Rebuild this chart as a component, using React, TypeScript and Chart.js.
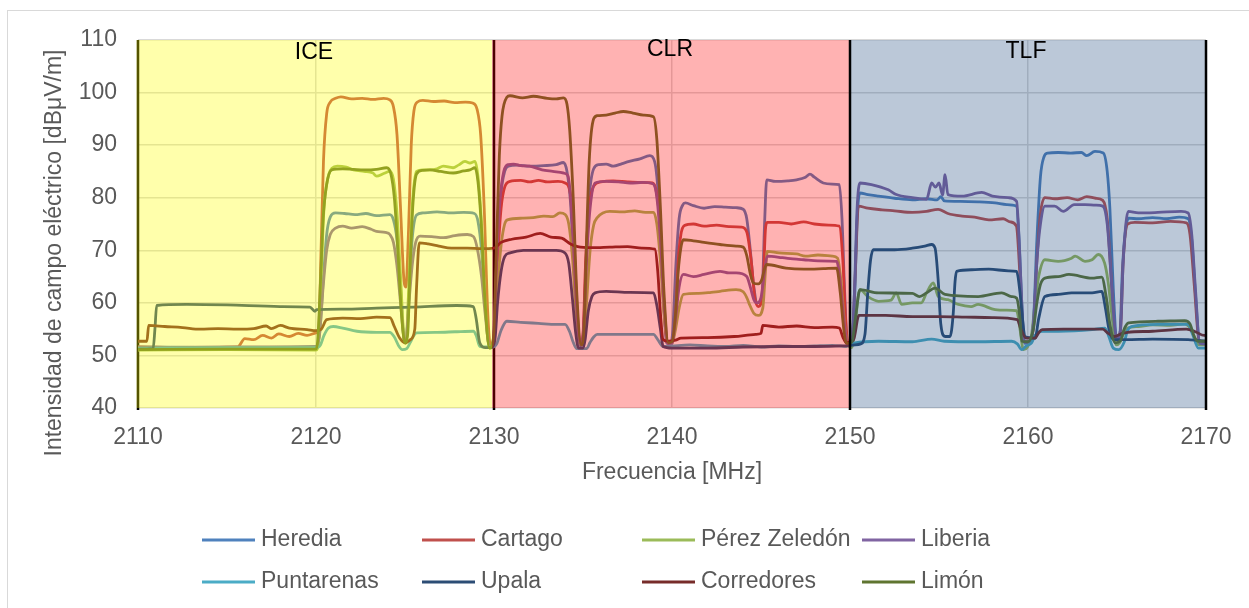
import React, { useEffect, useRef } from 'react';
import { Chart, registerables } from 'chart.js';

Chart.register(...registerables);

const FONT = "'Liberation Sans', Arial, sans-serif";
const TEXT_COLOR = '#595959';

const seriesNames = ['Heredia', 'Cartago', 'Pérez Zeledón', 'Liberia', 'Puntarenas', 'Upala', 'Corredores', 'Limón'];
const seriesColors = ['#4F81BD', '#C0504D', '#9BBB59', '#8064A2', '#4BACC6', '#2C4D75', '#772C2A', '#5F7530'];

const bandLabels = ['ICE', 'CLR', 'TLF'];
const bandStart = [2110, 2130, 2150];
const bandEnd = [2130, 2150, 2170];
const bandLabelY = [107.6, 108.2, 107.7];
const bandColors = ['rgba(255,255,0,0.33)', 'rgba(255,0,0,0.3)', 'rgba(31,73,125,0.3)'];

const xTitle = 'Frecuencia [MHz]';
const yTitle = 'Intensidad de campo eléctrico [dBμV/m]';

// [frecuencia MHz, dBμV/m]
const heredia: [number, number][] = [
  [2110, 51.6], [2115, 51.5], [2120, 51.7], [2120.2, 54], [2120.4, 64], [2120.6, 73], [2120.8, 76.3], [2121.1, 77.1],
  [2121.6, 77.0], [2122.2, 76.8], [2122.8, 77.0], [2123.4, 76.6], [2124.15, 76.8], [2124.35, 75.8], [2124.55, 72],
  [2124.75, 63], [2124.95, 53], [2125.05, 52.5], [2125.2, 60], [2125.4, 72], [2125.65, 76.7], [2126, 77.1], [2126.8, 77.3],
  [2127.6, 77.1], [2128.3, 77.2], [2128.9, 77.0], [2129.1, 75.5], [2129.3, 70], [2129.5, 60], [2129.7, 52.5], [2129.85, 51.8],
  [2130.0, 54], [2130.2, 70], [2130.4, 81], [2130.6, 85], [2130.8, 86.0], [2131.3, 86.2], [2132, 86.0], [2132.8, 86.1],
  [2133.5, 86.3], [2133.9, 86.7], [2134.1, 85], [2134.3, 79], [2134.5, 66], [2134.7, 55], [2134.85, 51.8], [2135.0, 53],
  [2135.15, 66], [2135.35, 80], [2135.6, 85.5], [2135.9, 86.3], [2136.3, 86.4], [2136.7, 86.0], [2137.2, 86.5], [2137.6, 86.9],
  [2138.2, 87.4], [2138.75, 88.0], [2138.9, 87.8], [2139.1, 85.5], [2139.3, 77], [2139.5, 62], [2139.7, 52.4], [2139.9, 52],
  [2140.05, 55], [2140.2, 66], [2140.4, 76], [2140.6, 78.6], [2140.75, 79.0], [2141.2, 78.5], [2141.8, 78.0], [2142.4, 78.3],
  [2143.0, 78.2], [2143.6, 78.1], [2144.0, 77.8], [2144.2, 76], [2144.4, 70], [2144.6, 63], [2144.8, 60], [2145.05, 61],
  [2145.2, 75], [2145.32, 83.4], [2145.8, 83.1], [2146.5, 83.2], [2147.0, 83.4], [2147.5, 83.9], [2147.75, 84.5], [2148.0, 83.9],
  [2148.5, 82.8], [2149.0, 82.6], [2149.4, 82.5], [2149.55, 76], [2149.7, 62], [2149.85, 52.5], [2150.05, 52.3],
  [2150.25, 60], [2150.4, 76], [2150.55, 80.9], [2151, 80.6], [2151.6, 80.3], [2152.5, 79.9], [2153.5, 79.6], [2154.3, 79.8],
  [2154.9, 79.6], [2155.1, 80.2], [2155.3, 79.4], [2156.2, 79.3], [2157.2, 79.2], [2158.15, 79.0], [2158.8, 78.7],
  [2159.35, 78.4], [2159.5, 72], [2159.65, 60], [2159.8, 52.3], [2160.1, 52.5], [2160.3, 56], [2160.5, 72], [2160.7, 84],
  [2160.9, 87.8], [2161.1, 88.5], [2161.7, 88.6], [2162.4, 88.5], [2163.0, 88.6], [2163.3, 88.0], [2163.76, 88.8],
  [2164.23, 88.5], [2164.45, 85], [2164.6, 78], [2164.8, 62], [2164.98, 53], [2165.15, 53.5], [2165.3, 66], [2165.45, 73],
  [2165.65, 76.1], [2166.2, 76.0], [2167, 76.2], [2167.8, 76.0], [2168.5, 76.3], [2169.0, 76.0], [2169.2, 72], [2169.4, 62],
  [2169.65, 52.2], [2170, 52.0],
];

const cartago: [number, number][] = [
  [2110, 51.6], [2113, 51.5], [2115.6, 51.6], [2116.0, 53.2], [2116.5, 53.0], [2117.0, 53.8], [2117.5, 53.3], [2117.9, 54.1],
  [2118.5, 53.6], [2119.0, 54.2], [2119.5, 53.8], [2120.0, 54.3], [2120.15, 55], [2120.3, 72], [2120.42, 87], [2120.6, 96],
  [2120.8, 98.2], [2121.1, 98.9], [2121.4, 99.2], [2122, 98.8], [2122.6, 98.9], [2123.2, 98.7], [2123.8, 98.9],
  [2124.15, 98.6], [2124.35, 97.3], [2124.55, 92], [2124.75, 78], [2124.95, 64], [2125.05, 63], [2125.2, 74], [2125.35, 90],
  [2125.5, 96.5], [2125.7, 98.2], [2126, 98.5], [2126.6, 98.3], [2127.2, 98.4], [2127.8, 98.1], [2128.4, 98.2], [2128.8, 98.0],
  [2129.05, 96.8], [2129.25, 92], [2129.45, 78], [2129.65, 58], [2129.8, 52],
  [2130.0, 54], [2130.2, 68], [2130.4, 78], [2130.6, 82], [2130.9, 83.1], [2131.5, 83.3], [2132, 83], [2132.5, 83.3],
  [2133, 83.0], [2133.6, 83.1], [2134.0, 82.8], [2134.25, 81.5], [2134.45, 75], [2134.65, 60], [2134.85, 52], [2135.0, 54],
  [2135.15, 68], [2135.35, 78], [2135.6, 82.2], [2136, 83], [2136.7, 83.2], [2137.5, 83], [2138.2, 82.9], [2138.9, 82.8],
  [2139.1, 81.5], [2139.3, 76], [2139.5, 62], [2139.75, 52.4], [2140.0, 52.5], [2140.2, 57], [2140.35, 68], [2140.5, 73],
  [2140.7, 74.7], [2141.2, 75.0], [2141.8, 74.6], [2142.5, 74.8], [2143.2, 74.5], [2143.9, 74.4], [2144.2, 73.5],
  [2144.45, 68], [2144.65, 61], [2144.85, 59.3], [2145.1, 62], [2145.25, 74], [2145.35, 75.3], [2146, 75.3], [2146.7, 75.0],
  [2147.4, 75.4], [2148, 75.0], [2148.8, 74.8], [2149.4, 74.6], [2149.6, 68], [2149.75, 57], [2149.9, 52.2], [2150.1, 52.5],
  [2150.3, 66], [2150.47, 78.4], [2151, 78.0], [2151.8, 77.7], [2152.5, 77.5], [2153.5, 77.2], [2154.3, 77.4],
  [2154.95, 77.8], [2155.5, 77.0], [2156.3, 76.5], [2157.0, 76.3], [2157.8, 75.8], [2158.6, 76.0], [2159.0, 75.4],
  [2159.35, 74.6], [2159.55, 65], [2159.75, 52.7], [2160.0, 52.6], [2160.3, 55], [2160.5, 68], [2160.7, 77], [2160.95, 80.0],
  [2161.5, 79.8], [2162.2, 80.0], [2162.8, 79.6], [2163.3, 80.2], [2163.8, 79.9], [2164.2, 79.5], [2164.45, 76],
  [2164.65, 66], [2164.85, 55], [2165.0, 53], [2165.2, 55], [2165.35, 68], [2165.6, 75.0], [2166, 75.3], [2167, 75.2],
  [2168, 75.5], [2168.9, 75.2], [2169.1, 73], [2169.35, 63], [2169.6, 53], [2170, 52.3],
];

const perezZeledon: [number, number][] = [
  [2110, 51.0], [2115, 51.1], [2120, 51.0], [2120.15, 53], [2120.3, 66], [2120.45, 78], [2120.65, 83.5], [2120.9, 85.6],
  [2121.2, 86.0], [2121.7, 85.8], [2122.1, 85.3], [2122.7, 85.0], [2123.2, 84.7], [2123.4, 84.1], [2123.8, 84.6],
  [2124.15, 85.0], [2124.35, 83.5], [2124.55, 77], [2124.75, 65], [2124.95, 53], [2125.05, 52.3], [2125.2, 62], [2125.4, 78],
  [2125.65, 85.0], [2126.0, 85.3], [2126.4, 85.3], [2126.8, 85.5], [2127.15, 86.0], [2127.7, 85.7], [2128.0, 86.2],
  [2128.37, 86.9], [2128.65, 86.6], [2128.93, 86.9], [2129.1, 84], [2129.3, 75], [2129.5, 60], [2129.75, 51.4], [2129.9, 51.5],
  [2130.05, 54], [2130.2, 63], [2130.4, 71], [2130.6, 75], [2130.75, 75.8], [2131.6, 76.1], [2132.2, 76.2], [2132.8, 76.5],
  [2133.3, 76.4], [2133.7, 77.1], [2134.0, 76.8], [2134.2, 75], [2134.4, 69], [2134.6, 59], [2134.8, 52.2], [2135.05, 52.5],
  [2135.2, 60], [2135.4, 70], [2135.6, 74.8], [2135.8, 76.2], [2136.5, 77.4], [2137.2, 77.3], [2137.9, 77.5], [2138.5, 77.2],
  [2138.96, 77.2], [2139.15, 75], [2139.35, 68], [2139.55, 58], [2139.8, 52.2], [2140.0, 52.3], [2140.2, 55], [2140.4, 59],
  [2140.64, 61.6], [2141.5, 61.8], [2142.2, 62.0], [2142.7, 62.2], [2143.6, 62.5], [2144.0, 62.1], [2144.2, 61],
  [2144.38, 59.5], [2144.6, 58.0], [2144.85, 57.6], [2145.1, 59], [2145.25, 66], [2145.35, 69.8], [2146, 69.5],
  [2147, 69.3], [2147.5, 68.9], [2148.2, 69.1], [2149.0, 68.9], [2149.3, 68.5], [2149.5, 64], [2149.7, 56], [2149.9, 51.8],
  [2150.1, 51.5], [2150.3, 56], [2150.45, 61], [2150.56, 62.5], [2151.0, 61.2], [2151.6, 60.3], [2152.3, 60.5],
  [2152.6, 61.9], [2152.9, 59.7], [2153.5, 60.0], [2154.0, 60.0], [2154.3, 61.9], [2154.68, 63.8], [2154.96, 61.2],
  [2155.5, 60.6], [2156.09, 59.7], [2156.8, 59.3], [2157.2, 59.7], [2158.15, 58.7], [2158.8, 58.6], [2159.36, 58.5],
  [2159.55, 55], [2159.74, 51.1], [2159.95, 51.5], [2160.2, 54], [2160.4, 60], [2160.6, 65], [2160.95, 68.2], [2161.7, 67.9],
  [2162.45, 68.5], [2162.65, 68.9], [2163.2, 67.9], [2163.6, 68.2], [2163.95, 69.2], [2164.3, 67.6], [2164.5, 64],
  [2164.7, 58], [2164.95, 52], [2165.15, 52.4], [2165.35, 54], [2165.6, 55.2], [2166.2, 55.5], [2167.0, 55.8],
  [2168.0, 55.7], [2168.8, 56.0], [2169.1, 55.2], [2169.35, 53.5], [2169.6, 52.0], [2170, 52.0],
];

const liberia: [number, number][] = [
  [2110, 51.5], [2115, 51.6], [2120, 51.6], [2120.2, 54], [2120.4, 63], [2120.6, 70], [2120.8, 73], [2121.1, 74.2],
  [2121.5, 74.6], [2122.0, 74.2], [2122.6, 74.5], [2123.1, 74.0], [2123.4, 73.6], [2123.9, 73.4], [2124.15, 73.0],
  [2124.35, 71.5], [2124.55, 67], [2124.75, 60], [2124.95, 53], [2125.05, 52.4], [2125.2, 59], [2125.4, 67], [2125.6, 71.5],
  [2125.85, 72.7], [2126.5, 72.6], [2127.15, 72.4], [2127.8, 72.8], [2128.5, 73.0], [2128.85, 72.6], [2129.05, 70.5],
  [2129.3, 65], [2129.5, 58], [2129.75, 51.7], [2129.9, 51.8],
  [2130.0, 54], [2130.15, 68], [2130.35, 80], [2130.55, 85], [2130.81, 86.3], [2131.1, 86.4], [2131.5, 86.1], [2132.0, 86.0],
  [2132.7, 85.3], [2133.3, 85.0], [2133.9, 84.7], [2134.15, 84.2], [2134.35, 78], [2134.55, 65], [2134.75, 54], [2134.9, 52],
  [2135.05, 56], [2135.2, 68], [2135.4, 78], [2135.68, 82.8], [2136.3, 83.1], [2137.0, 83.0], [2137.65, 82.8], [2138.4, 82.9],
  [2138.95, 82.6], [2139.15, 80], [2139.35, 72], [2139.55, 60], [2139.8, 52], [2140.0, 52.3], [2140.2, 57], [2140.4, 63],
  [2140.64, 65.4], [2141.2, 65.0], [2141.8, 65.4], [2142.7, 66.0], [2143.2, 65.7], [2143.6, 65.7], [2144.2, 65.0],
  [2144.4, 63], [2144.6, 60.6], [2144.76, 60.0], [2145.0, 61], [2145.2, 66], [2145.35, 68.9], [2146.2, 68.6], [2147.0, 68.3],
  [2147.4, 68.2], [2148.2, 68.0], [2149.25, 67.9], [2149.45, 64], [2149.65, 57], [2149.9, 52], [2150.1, 52.2],
  [2150.25, 62], [2150.4, 78], [2150.56, 82.8], [2151.2, 82.5], [2152.15, 81.5], [2152.6, 80.6], [2153.5, 80.0],
  [2154.3, 79.7], [2154.59, 82.8], [2154.8, 82.0], [2155.0, 82.8], [2155.2, 80.5], [2155.34, 84.4], [2155.5, 80.6],
  [2156.3, 80.3], [2157.4, 81.0], [2158.0, 80.3], [2158.9, 80.0], [2159.36, 79.3], [2159.5, 72], [2159.65, 60],
  [2159.8, 52.5], [2160.1, 52.6], [2160.3, 56], [2160.5, 68], [2160.7, 75], [2160.95, 78.4], [2161.5, 78.4], [2161.98, 77.4],
  [2162.6, 78.7], [2163.2, 78.7], [2163.8, 78.6], [2164.2, 78.4], [2164.45, 75], [2164.65, 66], [2164.85, 56], [2165.0, 53],
  [2165.2, 55], [2165.35, 68], [2165.63, 77.4], [2166.2, 77.1], [2167.3, 77.2], [2168.6, 77.4], [2169.0, 77.1], [2169.2, 73],
  [2169.4, 63], [2169.65, 52.3], [2170, 52.2],
];

const puntarenas: [number, number][] = [
  [2110, 51.4], [2115, 51.5], [2120, 51.5], [2120.25, 52], [2120.45, 53.8], [2120.7, 55.2], [2120.97, 55.5], [2121.5, 55.2],
  [2122.3, 54.6], [2123.4, 54.4], [2124.15, 54.4], [2124.4, 53.5], [2124.65, 51.8], [2124.85, 51.1], [2125.1, 51.3],
  [2125.3, 52.5], [2125.5, 53.8], [2125.65, 54.3], [2126.8, 54.4], [2127.8, 54.5], [2128.84, 54.6], [2129.0, 53.8],
  [2129.2, 51.7], [2129.5, 51.6], [2129.9, 51.6], [2130.15, 52.2], [2130.4, 54.8], [2130.72, 56.5], [2131.5, 56.3],
  [2132.5, 56.1], [2133.5, 55.9], [2133.99, 55.9], [2134.25, 54.5], [2134.45, 52.5], [2134.65, 51.3], [2135.2, 51.3],
  [2135.4, 52.5], [2135.6, 53.5], [2135.8, 54.0], [2136.8, 54.0], [2138.0, 54.0], [2138.96, 54.0], [2139.2, 53.0],
  [2139.5, 51.7], [2140, 51.8], [2141, 52.0], [2142, 51.8], [2143, 51.7], [2144, 51.9], [2145, 51.6], [2146, 51.8],
  [2147, 51.7], [2148, 51.8], [2149, 51.9], [2149.8, 51.7], [2150.28, 52.4], [2151.6, 52.7], [2153.5, 52.6], [2154.59, 53.1],
  [2155.3, 52.7], [2157.2, 52.6], [2159.08, 52.7], [2159.4, 52.2], [2159.65, 51.1], [2159.9, 51.8], [2160.2, 52.4],
  [2160.4, 53.8], [2160.77, 54.6], [2161.7, 54.6], [2163.6, 54.9], [2164.32, 55.2], [2164.55, 53.5], [2164.79, 51.4],
  [2165.1, 51.1], [2165.4, 52.5], [2165.6, 54.8], [2165.8, 55.5], [2167.3, 55.9], [2169.0, 55.9], [2169.25, 54],
  [2169.57, 51.4], [2170, 51.4],
];

const upala: [number, number][] = [
  [2110, 51.2], [2110.85, 51.3], [2110.95, 55], [2111.05, 59.5], [2112.73, 59.7], [2115.0, 59.6], [2117.98, 59.3],
  [2119.66, 59.2], [2119.94, 58.4], [2120.03, 58.7], [2121.5, 58.8], [2123.4, 59.0], [2125.5, 59.2], [2127.9, 59.5],
  [2128.84, 59.3], [2129.0, 57], [2129.2, 52.4], [2129.5, 51.5], [2129.8, 51.5], [2130.05, 53], [2130.2, 60], [2130.4, 66],
  [2130.6, 68.8], [2130.9, 69.5], [2131.65, 70.0], [2133.5, 70.0], [2133.99, 69.5], [2134.2, 67.5], [2134.4, 61],
  [2134.6, 54], [2134.75, 51.4], [2135.0, 51.4], [2135.12, 53], [2135.3, 58.5], [2135.5, 61.2], [2135.68, 61.9],
  [2136.3, 62.2], [2137.6, 62.0], [2138.96, 61.9], [2139.15, 59.5], [2139.35, 55], [2139.5, 51.7], [2140, 51.4],
  [2142, 51.4], [2144, 51.6], [2146, 51.7], [2148, 51.7], [2149.5, 51.8], [2150.3, 52.0], [2150.6, 52.2], [2150.84, 54],
  [2151.0, 62], [2151.15, 68], [2151.31, 70.1], [2152.5, 70.1], [2153.5, 70.4], [2154.2, 70.8], [2154.59, 71.1],
  [2154.78, 70.4], [2154.96, 64], [2155.1, 56], [2155.34, 53.6], [2155.62, 53.6], [2155.8, 58], [2155.9, 64],
  [2155.99, 66.0], [2156.84, 66.3], [2157.8, 66.4], [2158.9, 66.1], [2159.36, 66.0], [2159.55, 62], [2159.75, 55],
  [2159.83, 53.6], [2160.4, 53.3], [2160.6, 57], [2160.95, 61.2], [2161.7, 61.6], [2162.45, 61.9], [2163.6, 61.9],
  [2164.14, 62.2], [2164.35, 59], [2164.55, 55], [2164.8, 53.0], [2165.5, 53.0], [2167, 53.1], [2169.0, 53.0], [2170, 52.7],
];

const corredores: [number, number][] = [
  [2110, 52.7], [2110.5, 52.7], [2110.6, 55.7], [2111.5, 55.5], [2112.5, 55.3], [2113.5, 55.0], [2114.5, 55.1],
  [2115.6, 55.0], [2116.5, 55.1], [2117.2, 55.6], [2117.5, 55.1], [2118.0, 55.7], [2118.5, 55.2], [2119.5, 54.9],
  [2120.0, 54.7], [2120.3, 55.0], [2120.6, 56.8], [2121.5, 57.1], [2122.5, 57.0], [2123.4, 57.3], [2124.16, 57.2],
  [2124.4, 55.5], [2124.7, 53.3], [2125.0, 52.4], [2125.3, 53.0], [2125.55, 55], [2125.65, 63], [2125.8, 71.4],
  [2126.3, 71.2], [2126.9, 70.8], [2127.6, 70.4], [2128.5, 70.4], [2129.3, 70.3], [2130.0, 70.4], [2130.4, 71.5],
  [2131.0, 72.1], [2131.8, 72.5], [2132.6, 73.2], [2133.2, 72.5], [2133.8, 72.3], [2134.3, 71.2], [2134.7, 70.7],
  [2135.5, 70.5], [2136.5, 70.6], [2137.5, 70.7], [2138.3, 70.4], [2139.04, 70.2], [2139.2, 66], [2139.35, 58],
  [2139.5, 53], [2139.8, 52.7], [2140.2, 52.9], [2140.5, 53.3], [2142.0, 53.4], [2143.5, 53.6], [2144.7, 54.0],
  [2145.0, 54.2], [2145.1, 55.7], [2146.0, 55.4], [2147.0, 55.6], [2148.0, 55.3], [2149.0, 55.4], [2149.4, 55.2],
  [2149.6, 53.5], [2149.8, 52.4], [2150.2, 53], [2150.5, 57.6], [2152.0, 57.6], [2153.5, 57.4], [2155.0, 57.4],
  [2156.5, 57.3], [2158.0, 57.2], [2159.4, 56.8], [2159.6, 55], [2159.9, 53.3], [2160.4, 53.3], [2160.6, 54.3],
  [2160.8, 54.9], [2162.0, 55.0], [2163.5, 55.0], [2164.2, 55.0], [2164.5, 54.2], [2164.85, 53.6], [2165.3, 54.2],
  [2165.6, 54.4], [2167.0, 54.6], [2168.9, 55.0], [2169.4, 54.5], [2169.9, 53.8], [2170, 53.8],
];

const limon: [number, number][] = [
  [2110, 51.1], [2115, 51.2], [2120, 51.2], [2120.1, 53], [2120.25, 64], [2120.4, 76], [2120.6, 82.5], [2120.88, 85.3],
  [2121.5, 85.5], [2122.1, 85.4], [2122.7, 85.3], [2123.4, 85.4], [2123.97, 85.7], [2124.2, 84.6], [2124.4, 80],
  [2124.6, 70], [2124.8, 58], [2125.0, 52.4], [2125.15, 54], [2125.3, 68], [2125.45, 79], [2125.65, 84.5], [2126.0, 85.2],
  [2126.4, 85.3], [2127.0, 85.0], [2127.71, 84.7], [2128.3, 85.1], [2128.65, 85.3], [2128.93, 85.7], [2129.1, 83],
  [2129.3, 74], [2129.5, 60], [2129.75, 51.4], [2129.9, 52],
  [2130.0, 55], [2130.15, 72], [2130.3, 88], [2130.45, 95.5], [2130.72, 99.1], [2130.9, 99.4], [2131.6, 99.0],
  [2132.21, 99.3], [2133.0, 98.9], [2133.5, 98.8], [2133.9, 99.0], [2134.1, 97.8], [2134.25, 93], [2134.45, 80],
  [2134.65, 62], [2134.9, 52], [2135.05, 55], [2135.2, 72], [2135.35, 87], [2135.6, 95.0], [2135.8, 95.6], [2136.3, 95.7],
  [2136.8, 96.1], [2137.27, 96.4], [2137.8, 96.1], [2138.4, 95.7], [2138.96, 95.4], [2139.15, 91], [2139.35, 78],
  [2139.55, 62], [2139.8, 52.4], [2140.0, 52.6], [2140.2, 58], [2140.35, 66], [2140.5, 70.5], [2140.64, 72.0],
  [2141.2, 71.8], [2141.8, 71.5], [2142.7, 71.1], [2143.6, 70.8], [2144.0, 70.6], [2144.2, 69], [2144.4, 65.5],
  [2144.57, 63.8], [2144.85, 63.6], [2145.05, 64.5], [2145.2, 66.5], [2145.32, 67.3], [2146.4, 66.6], [2147.4, 66.4],
  [2148.5, 66.5], [2149.25, 66.6], [2149.45, 62], [2149.65, 55], [2149.8, 52.3], [2150.1, 52.5], [2150.3, 57],
  [2150.56, 62.5], [2151.6, 61.9], [2153.5, 61.8], [2153.9, 61.2], [2154.3, 61.9], [2154.78, 62.8], [2155.34, 61.6],
  [2157.2, 61.2], [2158.52, 61.9], [2159.08, 61.2], [2159.36, 60.9], [2159.55, 57], [2159.65, 52.7], [2160.0, 52.6],
  [2160.3, 55], [2160.5, 60], [2160.7, 63.5], [2160.95, 64.7], [2161.7, 65.0], [2162.3, 65.4], [2163.6, 64.7],
  [2164.14, 64.9], [2164.4, 61], [2164.6, 56], [2164.9, 52.4], [2165.2, 52.8], [2165.4, 55], [2165.65, 56.2],
  [2167.3, 56.5], [2168.8, 56.6], [2169.1, 56.0], [2169.35, 53.5], [2169.57, 52.7], [2170, 52.7],
];

const seriesData = [heredia, cartago, perezZeledon, liberia, puntarenas, upala, corredores, limon];

const decorPlugin = {
  id: 'decor',
  beforeDraw(chart: any) {
    const { ctx } = chart;
    ctx.save();
    ctx.strokeStyle = '#D9D9D9';
    ctx.lineWidth = 1;
    ctx.strokeRect(7.5, 10.5, 1400, 800);
    ctx.restore();
  },
  beforeDatasetsDraw(chart: any) {
    const { ctx, chartArea, scales } = chart;
    const x = scales.x;
    ctx.save();
    ctx.strokeStyle = '#000000';
    ctx.lineWidth = 2.5;
    [bandStart[0], bandStart[1]].forEach((v) => {
      const px = x.getPixelForValue(v);
      ctx.beginPath();
      ctx.moveTo(px, chartArea.top);
      ctx.lineTo(px, chartArea.bottom + 2);
      ctx.stroke();
    });
    ctx.restore();
  },
  afterDatasetsDraw(chart: any) {
    const { ctx, chartArea, scales } = chart;
    const x = scales.x;
    const y = scales.y;
    ctx.save();
    const edges = [
      [x.getPixelForValue(bandStart[0]) - 1.5, x.getPixelForValue(bandEnd[0]) - 2],
      [x.getPixelForValue(bandStart[1]) - 2, x.getPixelForValue(bandEnd[1])],
      [x.getPixelForValue(bandStart[2]), x.getPixelForValue(bandEnd[2])],
    ];
    edges.forEach(([a, b], i) => {
      ctx.fillStyle = bandColors[i];
      ctx.fillRect(a, chartArea.top, b - a, chartArea.bottom - chartArea.top);
    });
    ctx.strokeStyle = '#000000';
    ctx.lineWidth = 2.5;
    [bandEnd[1], bandEnd[2]].forEach((v) => {
      const px = x.getPixelForValue(v);
      ctx.beginPath();
      ctx.moveTo(px, chartArea.top);
      ctx.lineTo(px, chartArea.bottom + 2);
      ctx.stroke();
    });
    ctx.fillStyle = '#000000';
    ctx.font = `23px ${FONT}`;
    ctx.textAlign = 'center';
    ctx.textBaseline = 'middle';
    bandLabels.forEach((t, i) => {
      const cx = x.getPixelForValue((bandStart[i] + bandEnd[i]) / 2) - 2;
      ctx.fillText(t, cx, y.getPixelForValue(bandLabelY[i]));
    });
    ctx.restore();
  },
  afterDraw(chart: any) {
    const { ctx } = chart;
    ctx.save();
    // y-axis title
    ctx.translate(55, 253);
    ctx.rotate(-Math.PI / 2);
    ctx.fillStyle = TEXT_COLOR;
    ctx.font = `23px ${FONT}`;
    ctx.textAlign = 'center';
    ctx.textBaseline = 'middle';
    ctx.fillText(yTitle, 0, 0);
    ctx.restore();

    // legend
    ctx.save();
    ctx.font = `23px ${FONT}`;
    ctx.textAlign = 'left';
    ctx.textBaseline = 'middle';
    chart.data.datasets.forEach((ds: any, i: number) => {
      const col = i % 4;
      const row = Math.floor(i / 4);
      const x0 = 202 + col * 220;
      const yy = 540 + row * 42;
      ctx.strokeStyle = ds.borderColor;
      ctx.lineWidth = 3;
      ctx.beginPath();
      ctx.moveTo(x0, yy);
      ctx.lineTo(x0 + 53, yy);
      ctx.stroke();
      ctx.fillStyle = TEXT_COLOR;
      ctx.fillText(ds.label, x0 + 59, yy);
    });
    ctx.restore();
  },
};

export default function App() {
  const ref = useRef<HTMLCanvasElement | null>(null);
  useEffect(() => {
    if (!ref.current) return;
    const chart = new Chart(ref.current, {
      type: 'line',
      data: {
        datasets: seriesData.map((d, i) => ({
          label: seriesNames[i],
          data: d.map(([fx, fy]) => ({ x: fx, y: fy })),
          borderColor: seriesColors[i],
          backgroundColor: seriesColors[i],
          borderWidth: 2.8,
          pointRadius: 0,
          fill: false,
          cubicInterpolationMode: 'monotone',
          order: seriesData.length - i,
        })),
      },
      options: {
        animation: false,
        responsive: false,
        events: [],
        layout: { padding: { left: 0, right: 43, top: 40, bottom: 120 } },
        plugins: { legend: { display: false }, tooltip: { enabled: false } },
        scales: {
          x: {
            type: 'linear',
            min: 2110,
            max: 2170,
            afterFit: (s: any) => { s.height = 80; },
            ticks: {
              stepSize: 10,
              color: TEXT_COLOR,
              font: { size: 23, family: FONT },
              padding: 16,
              maxRotation: 0,
              callback: (v: any) => String(v),
            },
            grid: { color: '#D9D9D9', lineWidth: 1.5, drawTicks: false },
            border: { display: false },
            title: {
              display: true,
              text: xTitle,
              color: TEXT_COLOR,
              font: { size: 23, family: FONT },
              padding: { top: 0, bottom: 2 },
            },
          },
          y: {
            min: 40,
            max: 110,
            afterFit: (s: any) => { s.width = 138; },
            ticks: {
              stepSize: 10,
              color: TEXT_COLOR,
              font: { size: 23, family: FONT },
              padding: 21,
              callback: (v: any) => String(v),
            },
            grid: { color: '#D9D9D9', lineWidth: 1.5, drawTicks: false },
            border: { display: false },
          },
        },
      },
      plugins: [decorPlugin],
    } as any);
    return () => chart.destroy();
  }, []);
  return (
    <div style={{ position: 'fixed', left: 0, top: 0, width: 1249, height: 608, background: '#ffffff' }}>
      <canvas ref={ref} width={1249} height={608} style={{ display: 'block' }} />
    </div>
  );
}
